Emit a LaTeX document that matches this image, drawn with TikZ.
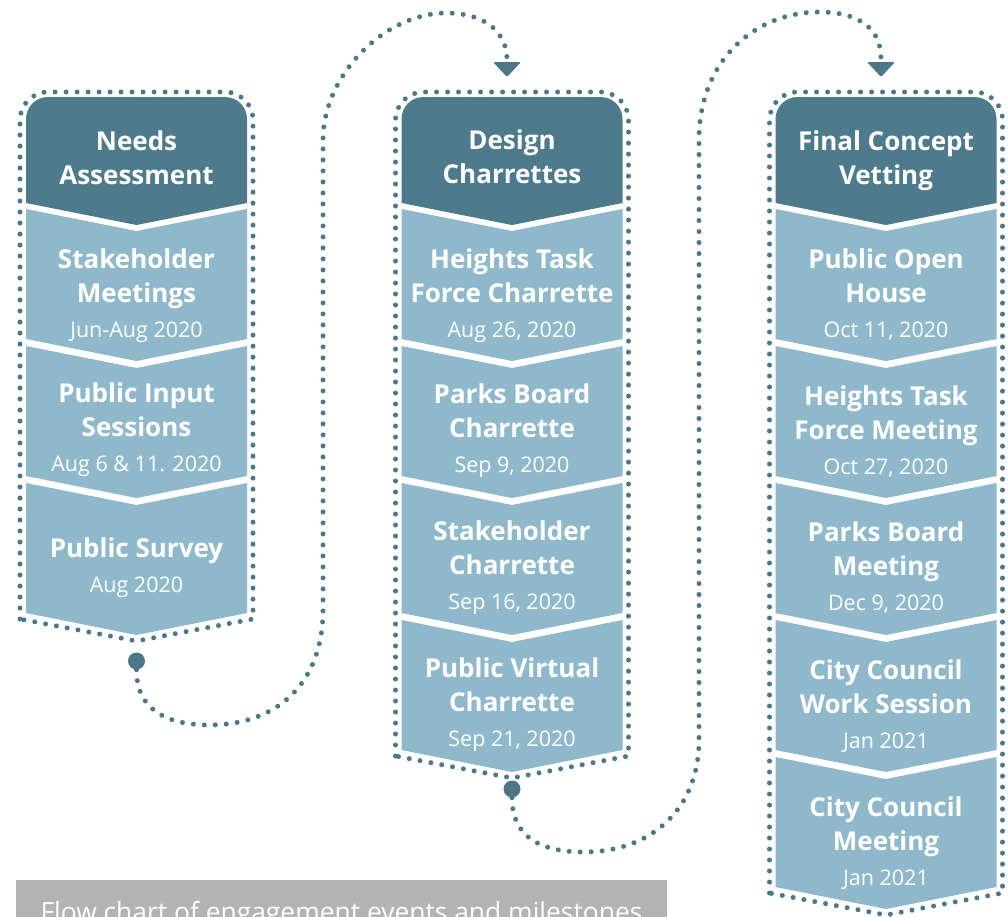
\documentclass[tikz,border=0pt]{standalone}
\usepackage{fontspec}
\setmainfont{Open Sans}
\definecolor{headteal}{HTML}{4E7B8B}
\definecolor{stageblue}{HTML}{8FB9CA}
\definecolor{dotteal}{HTML}{4B7787}
\definecolor{capgray}{HTML}{B3B3B3}
\newcommand{\stagedate}[1]{{\mdseries\fontsize{21.5}{21.5}\selectfont #1}}

\begin{document}
\begin{tikzpicture}[x=1pt,y=-1pt,
	head/.style={fill=headteal},
	stage/.style={fill=stageblue},
	ring/.style={draw=dotteal,line width=5pt,line cap=round,dash pattern=on 0pt off 11pt},
	stagetext/.style={anchor=base,align=center,text=white,font=\bfseries\fontsize{26}{34}\selectfont},
	startdot/.style={circle,fill=dotteal,minimum size=17pt,inner sep=0pt}]
	\useasboundingbox (0,0) rectangle (1008,916);

	% column 1
	\draw[ring] (20,619) -- (20,120) .. controls (20,104.5) and (32.5,92) .. (48,92) -- (225,92) .. controls (240.5,92) and (253,104.5) .. (253,120) -- (253,619) -- (136.5,641) -- cycle;
	\fill[head] (26,203) -- (26,119) .. controls (26,106.8) and (35.8,97) .. (48,97) -- (225,97) .. controls (237.2,97) and (247,106.8) .. (247,119) -- (247,203) -- (136.5,225) -- cycle;
	\fill[stage] (26,209) -- (136.5,231) -- (247,209) -- (247,339) -- (136.5,361) -- (26,339) -- cycle;
	\fill[stage] (26,346) -- (136.5,368) -- (247,346) -- (247,476) -- (136.5,498) -- (26,476) -- cycle;
	\fill[stage] (26,483) -- (136.5,505) -- (247,483) -- (247,613) -- (136.5,635) -- (26,613) -- cycle;
	% (base of a node = baseline of its last line)
	\node (needs) at (136.5,184) [stagetext] {Needs\\Assessment};
	\node (stakemeet) at (136.5,337) [stagetext] {Stakeholder\\Meetings\\[1pt]\stagedate{Jun-Aug 2020}};
	\node (input) at (136.5,471) [stagetext] {Public Input\\Sessions\\[1pt]\stagedate{Aug 6 \& 11. 2020}};
	\node (survey) at (136.5,592) [stagetext] {Public Survey\\[1pt]\stagedate{Aug 2020}};

	% column 2
	\draw[ring] (395.5,756) -- (395.5,120) .. controls (395.5,104.5) and (408,92) .. (423.5,92) -- (600.5,92) .. controls (616,92) and (628.5,104.5) .. (628.5,120) -- (628.5,756) -- (512,778) -- cycle;
	\fill[head] (401.5,203) -- (401.5,119) .. controls (401.5,106.8) and (411.3,97) .. (423.5,97) -- (600.5,97) .. controls (612.7,97) and (622.5,106.8) .. (622.5,119) -- (622.5,203) -- (512,225) -- cycle;
	\fill[stage] (401.5,209) -- (512,231) -- (622.5,209) -- (622.5,339) -- (512,361) -- (401.5,339) -- cycle;
	\fill[stage] (401.5,346) -- (512,368) -- (622.5,346) -- (622.5,476) -- (512,498) -- (401.5,476) -- cycle;
	\fill[stage] (401.5,483) -- (512,505) -- (622.5,483) -- (622.5,613) -- (512,635) -- (401.5,613) -- cycle;
	\fill[stage] (401.5,620) -- (512,642) -- (622.5,620) -- (622.5,750) -- (512,772) -- (401.5,750) -- cycle;
	\node (design) at (512,183) [stagetext] {Design\\Charrettes};
	\node (taskchar) at (512,337) [stagetext] {Heights Task\\Force Charrette\\[1pt]\stagedate{Aug 26, 2020}};
	\node (parkchar) at (512,472) [stagetext] {Parks Board\\Charrette\\[1pt]\stagedate{Sep 9, 2020}};
	\node (stakechar) at (512,609) [stagetext] {Stakeholder\\Charrette\\[1pt]\stagedate{Sep 16, 2020}};
	\node (virtual) at (512,746) [stagetext] {Public Virtual\\Charrette\\[1pt]\stagedate{Sep 21, 2020}};

	% column 3
	\draw[ring] (769.5,893) -- (769.5,120) .. controls (769.5,104.5) and (782,92) .. (797.5,92) -- (974.5,92) .. controls (990,92) and (1002.5,104.5) .. (1002.5,120) -- (1002.5,893) -- (886,915) -- cycle;
	\fill[head] (775.5,203) -- (775.5,119) .. controls (775.5,106.8) and (785.3,97) .. (797.5,97) -- (974.5,97) .. controls (986.7,97) and (996.5,106.8) .. (996.5,119) -- (996.5,203) -- (886,225) -- cycle;
	\fill[stage] (775.5,209) -- (886,231) -- (996.5,209) -- (996.5,339) -- (886,361) -- (775.5,339) -- cycle;
	\fill[stage] (775.5,346) -- (886,368) -- (996.5,346) -- (996.5,476) -- (886,498) -- (775.5,476) -- cycle;
	\fill[stage] (775.5,483) -- (886,505) -- (996.5,483) -- (996.5,613) -- (886,635) -- (775.5,613) -- cycle;
	\fill[stage] (775.5,620) -- (886,642) -- (996.5,620) -- (996.5,750) -- (886,772) -- (775.5,750) -- cycle;
	\fill[stage] (775.5,757) -- (886,779) -- (996.5,757) -- (996.5,887) -- (886,909) -- (775.5,887) -- cycle;
	\node (vetting) at (886,184) [stagetext] {Final Concept\\Vetting};
	\node (openhouse) at (886,337) [stagetext] {Public Open\\House\\[1pt]\stagedate{Oct 11, 2020}};
	\node (taskmeet) at (886,474) [stagetext] {Heights Task\\Force Meeting\\[1pt]\stagedate{Oct 27, 2020}};
	\node (parkmeet) at (886,610) [stagetext] {Parks Board\\Meeting\\[1pt]\stagedate{Dec 9, 2020}};
	\node (worksess) at (886,748) [stagetext] {City Council\\Work Session\\[1pt]\stagedate{Jan 2021}};
	\node (council) at (886,885) [stagetext] {City Council\\Meeting\\[1pt]\stagedate{Jan 2021}};

	% connectors
	\node (dot1) at (136.5,661) [startdot] {};
	\node (dot2) at (512,789) [startdot] {};
	\coordinate (tip1) at (507,60);
	\coordinate (tip2) at (881,60);
	\draw[ring] (dot1) .. controls (136.5,712) and (170,725) .. (210,725) .. controls (275,725) and (323,685) .. (323,610) -- (323,140) .. controls (323,75) and (385,13) .. (446,13) .. controls (485,13) and (507,32) .. (tip1);
	\draw[ring] (dot2) .. controls (512,840) and (545,852) .. (584,852) .. controls (650,852) and (699,810) .. (699,740) -- (699,140) .. controls (699,60) and (755,12) .. (820,12) .. controls (860,12) and (882,30) .. (tip2);
	\fill[dotteal,rounded corners=1.5pt] (tip1) ++(-14,2) -- ++(28,0) -- ++(-14,15) -- cycle;
	\fill[dotteal,rounded corners=1.5pt] (tip2) ++(-14,2) -- ++(28,0) -- ++(-14,15) -- cycle;

	% caption
	\fill[capgray] (16,880) rectangle (667,930);
	\node (caption) at (341.5,921) [anchor=base,text=white,font=\fontsize{26.4}{26.4}\selectfont] {Flow chart of engagement events and milestones};
\end{tikzpicture}
\end{document}
